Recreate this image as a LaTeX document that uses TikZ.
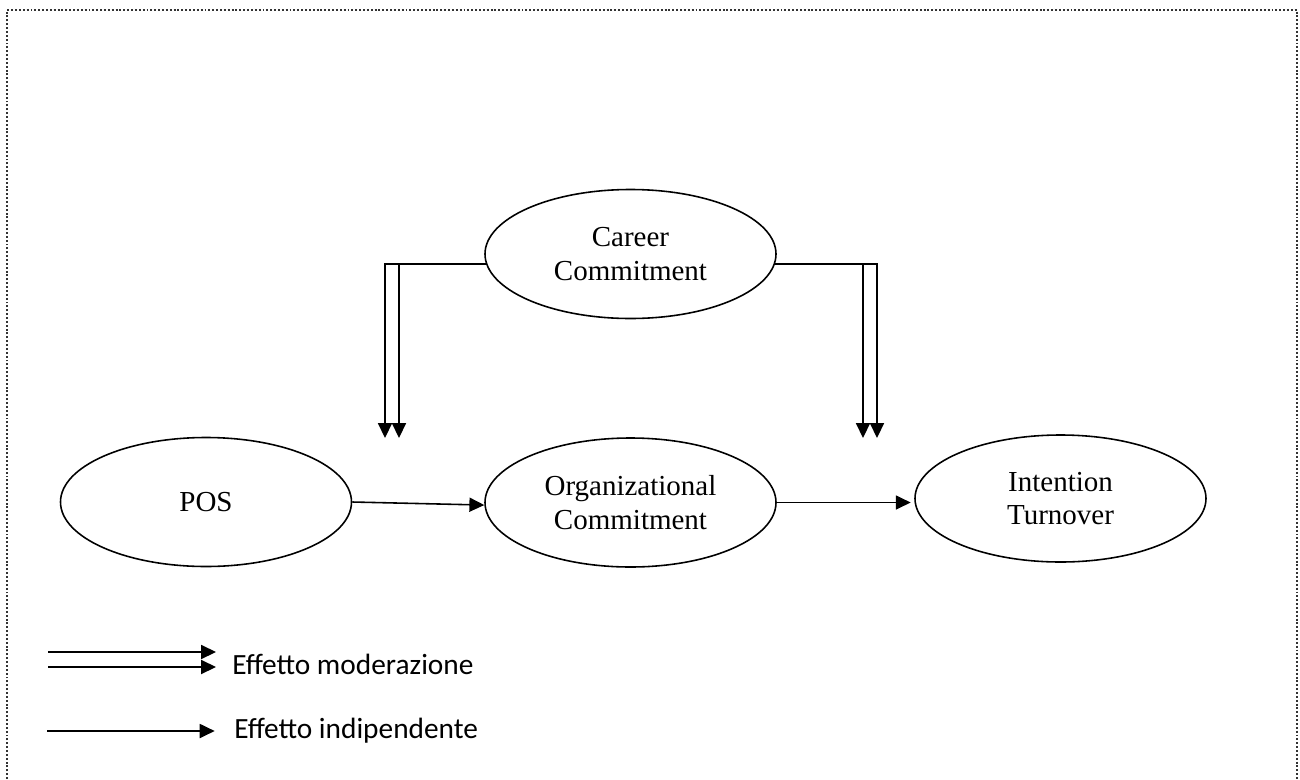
\documentclass[tikz,border=0pt]{standalone}
\usepackage{fontspec}
\setmainfont{Liberation Serif}
\newfontfamily\legendfont{Carlito}
\usepackage{tikz}
\usetikzlibrary{arrows.meta,shapes.geometric,positioning}

\begin{document}
\begin{tikzpicture}[
		var/.style={ellipse, draw, line width=0.9pt, inner sep=0pt, minimum width=5.82cm, minimum height=2.58cm, align=center, font=\fontsize{16.5}{19.3}\selectfont},
		effect/.style={line width=0.9pt, -{Triangle[length=8.5pt,width=8pt]}},
		legtext/.style={anchor=west, inner sep=0pt, font=\legendfont\fontsize{16.7}{19.8}\selectfont}
	]
			
			\useasboundingbox (0,0) rectangle (26,-15.58);
			\draw[line width=1.1pt, dash pattern=on 1.1pt off 1.1pt, black!80] (0.14,-15.58) -- (0.14,-0.2) -- (25.94,-0.2) -- (25.94,-15.58);
			
			\node[var] (career) at (12.61,-5.08) {Career\\Commitment};
			\node[var] (pos) at (4.12,-10.04) {POS};
			\node[var] (org) at (12.61,-10.05) {Organizational\\Commitment};
			\node[var, minimum height=2.54cm] (turn) at (21.21,-9.97) {Intention\\Turnover};
			
			\coordinate (modL) at (7.70,-8.76);
			\coordinate (modR) at (17.54,-8.76);
			\draw[effect] (career.184) -| (modL);
			\draw[effect] (7.98,-5.26) -- (7.98,-8.76);
			\draw[effect] (career.356) -| (modR);
			\draw[effect] (17.26,-5.26) -- (17.26,-8.76);
			
			\draw[effect] (pos.east) -- (org.181);
			\draw[effect, shorten >=2pt] (org.east) -- (org.east -| turn.west);
			
			\node[legtext] (legMod) at (4.64,-13.28) {Effetto moderazione};
			\node[legtext] (legInd) at (4.68,-14.62) {Effetto indipendente};
			\coordinate (legModA) at (0.96,-13.04);
			\coordinate (legModB) at (0.96,-13.34);
			\coordinate (legInd0) at (0.94,-14.62);
			\draw[effect] (legModA) -- (4.32,-13.04);
			\draw[effect] (legModB) -- (4.32,-13.34);
			\draw[effect, shorten >=11pt] (legInd0) -- (legInd.west);
		\end{tikzpicture}
\end{document}
